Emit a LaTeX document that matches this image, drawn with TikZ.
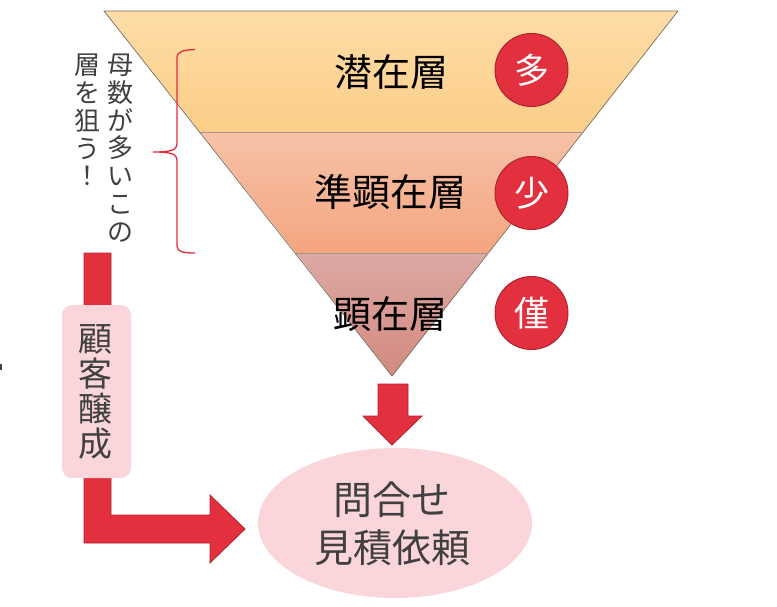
\documentclass[tikz,border=0pt]{standalone}
\usepackage{fontspec}
\setmainfont{Noto Sans CJK JP}
\usetikzlibrary{shapes.geometric}
\definecolor{redfill}{HTML}{E3303F}
\definecolor{redline}{HTML}{B0222F}
\definecolor{bracered}{HTML}{E8283C}
\definecolor{pinkfill}{HTML}{FAD6DB}
\definecolor{txtgray}{HTML}{404040}
\definecolor{edgec}{HTML}{7A6A5A}
\definecolor{aT}{HTML}{FEDDA8}\definecolor{aB}{HTML}{FCCE88}
\definecolor{bT}{HTML}{F6C2A8}\definecolor{bB}{HTML}{F4A57F}
\definecolor{cT}{HTML}{DDA8A3}\definecolor{cB}{HTML}{D38A80}
\tikzset{
  layertext/.style={font=\fontsize{38}{40}\selectfont, text=black, inner sep=0pt},
  badge/.style={circle, minimum size=73pt, inner sep=0pt, fill=redfill, draw=redline, line width=1pt, text=white, font=\fontsize{35}{36}\selectfont},
  redarrow/.style={fill=redfill, draw=redline, line width=0.8pt},
  vtext/.style={align=center, text=txtgray, inner sep=0pt, font=\fontsize{26}{27.8}\selectfont},
  labelbox/.style={rounded corners=10pt, fill=pinkfill, minimum width=69pt, minimum height=173pt, inner sep=0pt},
}
\begin{document}
\begin{tikzpicture}[x=1pt,y=-1pt]
\useasboundingbox (0,0) rectangle (777,606);
% funnel
\shade[top color=aT, bottom color=aB] (104,11) -- (678,11) -- (583,132) -- (200,132) -- cycle;
\shade[top color=bT, bottom color=bB] (200,132) -- (583,132) -- (488,253) -- (296,253) -- cycle;
\shade[top color=cT, bottom color=cB] (296,253) -- (488,253) -- (392,376) -- cycle;
\draw[edgec, line width=0.7pt] (104,11) -- (678,11) -- (392,376) -- cycle;
\draw[edgec!70, line width=0.5pt] (200,132) -- (583,132);
\draw[edgec!70, line width=0.5pt] (296,253) -- (488,253);
\coordinate (apex) at (392,376);
% layer texts
\node[layertext] (l1) at (391,72) {潜在層};
\node[layertext] (l2) at (390,192) {準顕在層};
\node[layertext] (l3) at (390,314) {顕在層};
% badges
\node[badge] (b1) at (531.5,70) {多};
\node[badge] (b2) at (531.5,193) {少};
\node[badge] (b3) at (531.5,313) {僅};
% brace
\coordinate (brtop) at (195,49.5);
\coordinate (brmid) at (153,152);
\coordinate (brbot) at (195,253);
\draw[bracered, line width=1.3pt]
  (brtop) .. controls (184,50) and (177,51) .. (177,58)
  -- (177,143) .. controls (177,150) and (172,152) .. (brmid)
  .. controls (172,152) and (177,154) .. (177,161)
  -- (177,246) .. controls (177,252) and (184,253) .. (brbot);
% vertical texts
\node[vtext] (v1) at (120,148) {母\\数\\が\\多\\い\\こ\\の};
\node[vtext] (v2) at (87,120) {層\\を\\狙\\う\\！};
% L arrow
\draw[redarrow] (84,253) -- (111,253) -- (111,515) -- (210,515) -- (210,495) -- (245,529) -- (210,563) -- (210,543) -- (84,543) -- cycle;
% label box
\node[labelbox] (lb) at (96.5,391.5) {};
\node[vtext, font=\fontsize{34}{35.3}\selectfont] (lbt) at (95.5,392) {顧\\客\\醸\\成};
% down arrow
\draw[redarrow] (378,384) -- (408,384) -- (408,416) -- (422,416) -- (392,445) -- (363,416) -- (378,416) -- cycle;
% ellipse
\node[ellipse, fill=pinkfill, minimum width=274pt, minimum height=150pt, inner sep=0pt] (goal) at (395,523) {};
\node[align=center, text=txtgray, inner sep=0pt, font=\fontsize{39}{48}\selectfont] (goalt) at (392,524) {問合せ\\見積依頼};
% edge artifact
\fill[txtgray] (0,364) rectangle (1.5,370);
\end{tikzpicture}
\end{document}
